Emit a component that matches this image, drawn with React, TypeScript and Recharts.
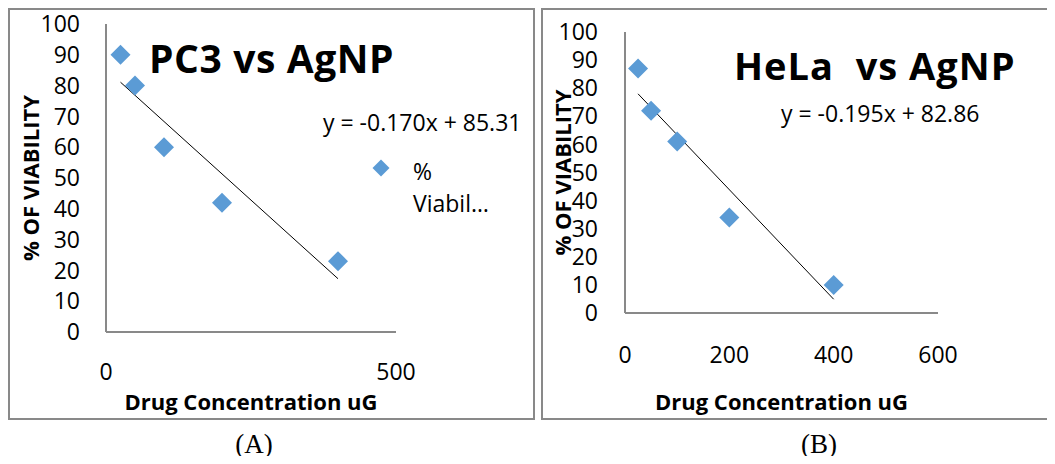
import { ScatterChart, Scatter, XAxis, YAxis, ReferenceLine } from 'recharts'

// PC3 vs AgNP
const pc3Conc = [25, 50, 100, 200, 400]
const pc3Viability = [90, 80, 60, 42, 23]
const pc3TrendX = [25, 400]
const pc3TrendY = [81.1, 17.3]
const pc3XTicks = [0, 500]

// HeLa vs AgNP
const helaConc = [25, 50, 100, 200, 400]
const helaViability = [87, 72, 61, 34, 10]
const helaTrendX = [25, 400]
const helaTrendY = [78.0, 4.9]
const helaXTicks = [0, 200, 400, 600]

const yTicks = [0, 10, 20, 30, 40, 50, 60, 70, 80, 90, 100]

const BLUE = '#5B9BD5'
const GREY = '#898989'
const FONT = '"Open Sans", sans-serif'
const SERIF = '"Liberation Serif", "Times New Roman", serif'

const toPoints = (xs: number[], ys: number[]) => xs.map((x, i) => ({ x, y: ys[i] }))

const Diamond = (props: any) => {
  const { cx, cy } = props
  const r = 10
  return <path d={`M${cx},${cy - r}L${cx + r},${cy}L${cx},${cy + r}L${cx - r},${cy}Z`} fill={BLUE} />
}

const yTitle = (dx: number) => (props: any) => {
  const vb = props.viewBox || { x: 0, y: 0, height: 0 }
  const x = vb.x + dx
  const y = vb.y + vb.height / 2
  return (
    <text
      x={x}
      y={y}
      transform={`rotate(-90 ${x} ${y})`}
      textAnchor="middle"
      dominantBaseline="central"
      fill="#000"
      fontFamily={FONT}
      fontWeight="bold"
      fontSize={22}
    >
      % OF VIABILITY
    </text>
  )
}

type PanelProps = {
  left: number
  width: number
  chartWidth: number
  xs: number[]
  ys: number[]
  trendX: number[]
  trendY: number[]
  xTicks: number[]
  xMax: number
  yAxisWidth: number
  marginTop: number
  marginRight: number
  xAxisHeight: number
  yTickMargin: number
  xTickMargin: number
  yTitleDx: number
}

const Panel = (p: PanelProps) => {
  const data = toPoints(p.xs, p.ys)
  const trend = toPoints(p.trendX, p.trendY)
  return (
    <>
      <div
        style={{
          position: 'absolute',
          left: p.left,
          top: 8,
          width: p.width,
          height: 412,
          boxSizing: 'border-box',
          border: `2px solid ${GREY}`,
        }}
      />
      <div style={{ position: 'absolute', left: p.left, top: 8 }}>
        <ScatterChart
          width={p.chartWidth}
          height={412}
          margin={{ top: p.marginTop, right: p.marginRight, bottom: 0, left: 0 }}
        >
          <XAxis
            type="number"
            dataKey="x"
            domain={[0, p.xMax]}
            ticks={p.xTicks}
            interval={0}
            height={p.xAxisHeight}
            axisLine={{ stroke: GREY, strokeWidth: 2 }}
            tickLine={false}
            tickSize={0}
            tickMargin={p.xTickMargin}
            tick={{ fill: '#000', fontSize: 23, fontFamily: FONT }}
            label={{
              value: 'Drug Concentration uG',
              position: 'insideBottom',
              offset: 10,
              fill: '#000',
              fontSize: 22,
              fontWeight: 'bold',
              fontFamily: FONT,
            }}
          />
          <YAxis
            type="number"
            dataKey="y"
            domain={[0, 100]}
            ticks={yTicks}
            interval={0}
            width={p.yAxisWidth}
            axisLine={{ stroke: GREY, strokeWidth: 2 }}
            tickLine={false}
            tickSize={0}
            tickMargin={p.yTickMargin}
            tick={{ fill: '#000', fontSize: 23, fontFamily: FONT }}
            label={yTitle(p.yTitleDx)}
          />
          <ReferenceLine
            segment={[trend[0], trend[1]]}
            stroke="#000"
            strokeWidth={1}
          />
          <Scatter data={data} fill={BLUE} shape={<Diamond />} isAnimationActive={false} />
        </ScatterChart>
      </div>
    </>
  )
}

const textStyle = (size: number, bold = false): React.CSSProperties => ({
  position: 'absolute',
  fontFamily: FONT,
  fontSize: size,
  lineHeight: `${size}px`,
  fontWeight: bold ? 'bold' : 'normal',
  color: '#000',
  whiteSpace: 'pre',
})

const captionStyle = (left: number): React.CSSProperties => ({
  position: 'absolute',
  left,
  width: 100,
  top: 431,
  textAlign: 'center',
  fontFamily: SERIF,
  fontSize: 27,
  lineHeight: '27px',
  color: '#000',
})

export default function App() {
  return (
    <div
      style={{
        position: 'relative',
        width: 1055,
        height: 464,
        margin: -8,
        overflow: 'hidden',
        background: '#fff',
      }}
    >
      <Panel
        left={8}
        width={527}
        chartWidth={527}
        xs={pc3Conc}
        ys={pc3Viability}
        trendX={pc3TrendX}
        trendY={pc3TrendY}
        xTicks={pc3XTicks}
        xMax={500}
        yAxisWidth={98}
        marginTop={16}
        marginRight={139}
        xAxisHeight={88}
        yTickMargin={26}
        xTickMargin={32}
        yTitleDx={22}
      />
      <Panel
        left={541}
        width={520}
        chartWidth={513}
        xs={helaConc}
        ys={helaViability}
        trendX={helaTrendX}
        trendY={helaTrendY}
        xTicks={helaXTicks}
        xMax={600}
        yAxisWidth={84}
        marginTop={24}
        marginRight={116}
        xAxisHeight={107}
        yTickMargin={27}
        xTickMargin={34}
        yTitleDx={21}
      />

      <div style={{ ...textStyle(39, true), left: 149, top: 38, letterSpacing: 0.6 }}>PC3 vs AgNP</div>
      <div style={{ ...textStyle(23), left: 323, top: 111 }}>y = -0.170x + 85.31</div>
      <svg style={{ position: 'absolute', left: 372, top: 159 }} width={18} height={18}>
        <path d="M9,0.5L17.5,9L9,17.5L0.5,9Z" fill={BLUE} />
      </svg>
      <div style={{ ...textStyle(23), left: 413, top: 155, lineHeight: '32px' }}>{'%\nViabil…'}</div>

      <div style={{ ...textStyle(38, true), left: 734, top: 46, letterSpacing: 1 }}>HeLa  vs AgNP</div>
      <div style={{ ...textStyle(23), left: 781, top: 102 }}>y = -0.195x + 82.86</div>

      <div style={captionStyle(204)}>(A)</div>
      <div style={captionStyle(769)}>(B)</div>
    </div>
  )
}
